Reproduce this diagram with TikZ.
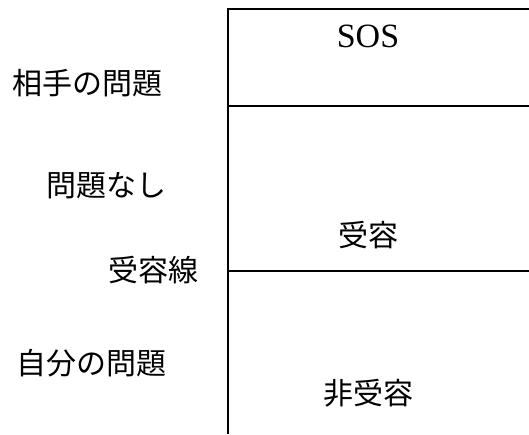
\documentclass[tikz,border=0pt]{standalone}
\usepackage{fontspec}
\setmainfont{Liberation Serif}
\newfontfamily\jpfont{Noto Sans CJK JP}
\begin{document}
\begin{tikzpicture}[x=1pt,y=-1pt,
  lbl/.style={inner sep=0pt,font=\jpfont\fontsize{30}{34}\selectfont},
  ln/.style={line width=2.5pt}]
\useasboundingbox (0,0) rectangle (529,434);
\coordinate (tl) at (228,9);
\coordinate (tr) at (529,9);
\coordinate (bl) at (228,434);
\coordinate (m1l) at (228,106);
\coordinate (m1r) at (529,106);
\coordinate (m2l) at (228,271);
\coordinate (m2r) at (529,271);
\draw[ln] (tr) -- (tl) -- (bl);
\draw[ln] (m1l) -- (m1r);
\draw[ln] (m2l) -- (m2r);
\node[inner sep=0pt,font=\fontsize{34}{38}\selectfont] (sos) at (368,36) {SOS};
\node[lbl] (ukeyou) at (368,235) {受容};
\node[lbl] (hiukeyou) at (368,393) {非受容};
\node[lbl,anchor=west] (aite) at (12,83) {相手の問題};
\node[lbl,anchor=west] (nashi) at (46,186) {問題なし};
\node[lbl,anchor=west] (sen) at (108,270) {受容線};
\node[lbl,anchor=west] (jibun) at (16,363) {自分の問題};
\end{tikzpicture}
\end{document}
